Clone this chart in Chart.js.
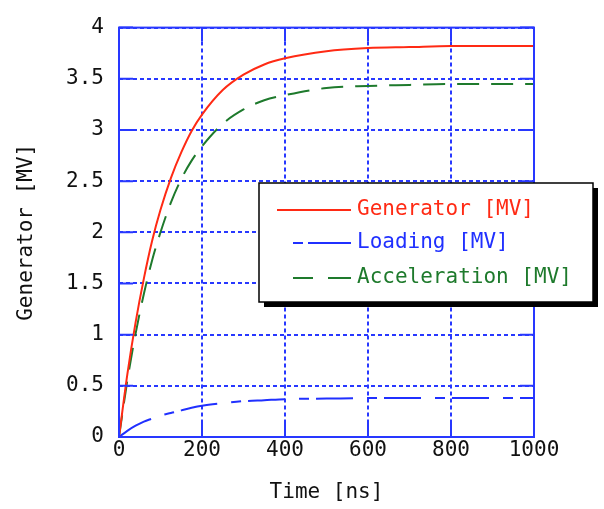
<!DOCTYPE html>
<html>
<head>
<meta charset="utf-8">
<script src="https://cdn.jsdelivr.net/npm/chart.js@4"></script>
<style>
  html, body { margin: 0; padding: 0; background: #fff; }
  #wrap { width: 604px; height: 509px; }
</style>
</head>
<body>
<div id="wrap"><canvas id="chart" width="604" height="509"></canvas></div>
<script>
    // data
  const times = [0, 20, 40, 60, 80, 100, 125, 150, 175, 200, 250, 300, 350, 400, 500, 600, 700, 800, 900, 1000];
  const generator = [0, 0.61, 1.12, 1.55, 1.92, 2.22, 2.53, 2.78, 2.99, 3.15, 3.39, 3.54, 3.64, 3.70, 3.77, 3.80, 3.81, 3.82, 3.82, 3.82];
  const loading = [0, 0.06, 0.11, 0.15, 0.18, 0.21, 0.235, 0.26, 0.285, 0.305, 0.33, 0.35, 0.36, 0.37, 0.375, 0.38, 0.38, 0.38, 0.38, 0.38];
  const acceleration = [0, 0.55, 1.01, 1.40, 1.73, 2.00, 2.29, 2.52, 2.70, 2.84, 3.06, 3.20, 3.29, 3.34, 3.41, 3.43, 3.44, 3.45, 3.45, 3.45];
  const xTicks = [0, 200, 400, 600, 800, 1000];
  const yTicks = [0, 0.5, 1, 1.5, 2, 2.5, 3, 3.5, 4];

  const blue = '#2838ff';
  const font = 'DejaVu Sans Mono';

  const pts = (ys) => times.map((t, i) => ({ x: t, y: ys[i] }));

  // ticks drawn inward from each side of the frame
  const innerTicks = {
    id: 'innerTicks',
    afterDatasetsDraw(chart) {
      const { ctx, chartArea: a, scales } = chart;
      const len = 14;
      ctx.save();
      ctx.strokeStyle = blue;
      ctx.lineWidth = 2;
      ctx.beginPath();
      xTicks.forEach(v => {
        const px = scales.x.getPixelForValue(v);
        ctx.moveTo(px, a.bottom); ctx.lineTo(px, a.bottom - len);
        ctx.moveTo(px, a.top); ctx.lineTo(px, a.top + len);
      });
      yTicks.forEach(v => {
        const py = scales.y.getPixelForValue(v);
        ctx.moveTo(a.left, py); ctx.lineTo(a.left + len, py);
        ctx.moveTo(a.right, py); ctx.lineTo(a.right - len, py);
      });
      ctx.stroke();
      ctx.strokeRect(a.left, a.top, a.right - a.left, a.bottom - a.top);
      ctx.restore();
    }
  };

  // boxed legend with shadow, inside the plot
  const boxLegend = {
    id: 'boxLegend',
    afterDraw(chart) {
      const { ctx } = chart;
      const bx = 259, by = 183, bw = 334, bh = 119;
      ctx.save();
      ctx.fillStyle = '#000';
      ctx.fillRect(bx + 5, by + 5, bw, bh);
      ctx.fillStyle = '#fff';
      ctx.fillRect(bx, by, bw, bh);
      ctx.strokeStyle = '#000';
      ctx.lineWidth = 1.5;
      ctx.strokeRect(bx, by, bw, bh);
      const rows = [210, 243, 278];
      chart.data.datasets.forEach((ds, i) => {
        const y = rows[i];
        ctx.strokeStyle = ds.borderColor;
        ctx.lineWidth = ds.borderWidth;
        ctx.setLineDash(ds.legendDash);
        ctx.beginPath();
        ctx.moveTo(ds.legendStart, y);
        ctx.lineTo(351, y);
        ctx.stroke();
        ctx.setLineDash([]);
        ctx.fillStyle = ds.borderColor;
        ctx.font = '21px "' + font + '"';
        ctx.textBaseline = 'middle';
        ctx.fillText(ds.label, 357, y);
      });
      ctx.restore();
    }
  };

  const tickFont = { family: font, size: 21 };

  const config = {
    type: 'line',
    data: {
      datasets: [{
        label: 'Generator [MV]',
        data: pts(generator),
        borderColor: '#ff2a14',
        borderWidth: 2,
        legendDash: [],
        legendStart: 277,
      }, {
        label: 'Loading [MV]',
        data: pts(loading),
        borderColor: '#2030ff',
        borderWidth: 2,
        borderDash: [37, 14, 10, 7],
        legendDash: [10, 5, 60],
        legendStart: 293,
      }, {
        label: 'Acceleration [MV]',
        data: pts(acceleration),
        borderColor: '#1e7a2c',
        borderWidth: 2,
        borderDash: [22, 12],
        legendDash: [20, 15, 30],
        legendStart: 293,
      }]
    },
    options: {
      responsive: false,
      animation: false,
      layout: { padding: { top: 23, right: 70, left: 0, bottom: 0 } },
      elements: {
        point: { radius: 0 },
        line: { cubicInterpolationMode: 'monotone' }
      },
      plugins: {
        legend: { display: false },
        tooltip: { enabled: false }
      },
      scales: {
        x: {
          type: 'linear',
          min: 0,
          max: 1000,
          afterBuildTicks: (s) => { s.ticks = xTicks.map(v => ({ value: v })); },
          afterFit: (s) => { s.height = 72; },
          border: { display: false, dash: [4, 3] },
          grid: { color: blue, lineWidth: 2, drawTicks: false },
          ticks: { color: '#111', font: tickFont, padding: 1, maxRotation: 0, callback: (v) => String(v) },
          title: { display: true, text: 'Time [ns]', color: '#111', font: tickFont, padding: { top: 0, bottom: 4 } }
        },
        y: {
          min: 0,
          max: 4,
          afterBuildTicks: (s) => { s.ticks = yTicks.map(v => ({ value: v })); },
          afterFit: (s) => { s.width = 119; },
          border: { display: false, dash: [4, 3] },
          grid: { color: blue, lineWidth: 2, drawTicks: false },
          ticks: { color: '#111', font: tickFont, padding: 15, callback: (v) => String(v) },
          title: { display: true, text: 'Generator [MV]', color: '#111', font: tickFont, padding: { top: 14, bottom: 0 } }
        }
      }
    },
    plugins: [innerTicks, boxLegend]
  };

  const chart = new Chart(document.getElementById('chart'), config);
</script>
</body>
</html>
